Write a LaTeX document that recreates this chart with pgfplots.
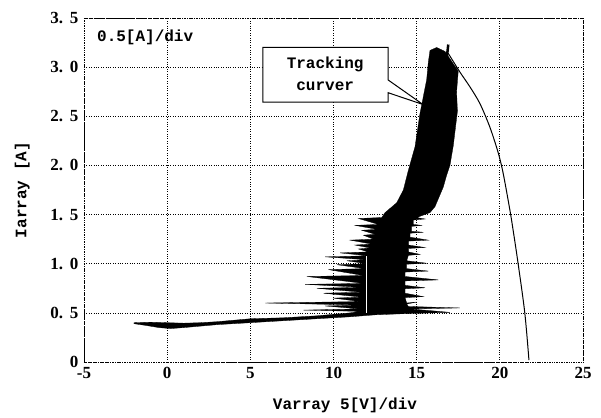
\documentclass[border=0pt]{standalone}
\usepackage{fontspec}
\setmainfont{Liberation Serif}
\setmonofont{Liberation Mono}
\usepackage{pgfplots}
\pgfplotsset{compat=1.18}
\newcommand\yl[2]{#1.\hspace{0.4em}#2}
\begin{document}
\begin{tikzpicture}
\path[use as bounding box] (-84pt,-55pt) rectangle (517pt,362pt);
\begin{axis}[
  scale only axis, width=499pt, height=344pt,
  xmin=-5, xmax=25, ymin=0, ymax=3.5,
  xtick={-5,0,5,10,15,20,25},
  xticklabels={-5,0,5,10,15,20,25},
  ytick={0,0.5,1,1.5,2,2.5,3,3.5},
  yticklabels={0,\yl05,\yl10,\yl15,\yl20,\yl25,\yl30,\yl35},
  tick style={draw=none},
  ticklabel style={font=\fontsize{17}{17}\selectfont\bfseries},
  yticklabel style={xshift=-2pt},
  xticklabel style={yshift=-2pt},
  grid=major,
  grid style={black, dotted, line width=0.7pt},
  axis line style={black, densely dotted, line width=0.7pt},
  xlabel={Varray 5[V]/div},
  ylabel={Iarray [A]},
  label style={font=\fontsize{16}{16}\selectfont\ttfamily\bfseries},
  xlabel style={at={(axis description cs:0.523,-0.125)}, anchor=center},
  ylabel style={at={(axis description cs:-0.124,0.5)}, anchor=center},
  clip=false,
]
% tracking trajectory (filled black band with spikes and low trail)
\addplot[fill=black, draw=black, line width=0.3pt] coordinates {
  (15.8,3.17) (16.2,3.20) (16.7,3.16) (17.1,3.06) (17.5,2.96) (17.4,2.75)
  (17.45,2.55) (17.2,2.2) (17.0,2.0) (16.8,1.9) (16.6,1.78) (16.3,1.66)
  (16.1,1.58) (15.8,1.52)
  (15.0,1.47) (15.5,1.455) (14.8,1.445)
  (14.8,1.40) (15.3,1.39) (14.7,1.38)
  (14.7,1.33) (15.4,1.32) (14.6,1.31)
  (14.6,1.27) (15.7,1.24) (14.5,1.23)
  (14.5,1.19) (15.5,1.165) (14.5,1.155)
  (14.5,1.12) (15.2,1.095) (14.5,1.085)
  (14.4,1.03) (15.6,1.005) (14.4,0.995)
  (14.4,0.95) (15.7,0.925) (14.3,0.915)
  (14.3,0.87) (16.3,0.835) (14.3,0.825)
  (14.3,0.78) (15.5,0.755) (14.3,0.745)
  (14.3,0.70) (15.4,0.665) (14.3,0.655)
  (14.4,0.60) (15.0,0.61) (14.4,0.59)
  (14.5,0.565) (17.6,0.55) (14.6,0.54)
  (16.0,0.52) (17.0,0.505) (14.0,0.49)
  (12.5,0.48) (11,0.46) (9,0.44) (7,0.42) (5,0.40) (3,0.38) (1,0.35)
  (0.2,0.34) (-0.5,0.35) (-1.2,0.37) (-2.0,0.39) (-2.0,0.40)
  (-1,0.405) (0,0.40) (1,0.395) (2,0.40) (3,0.41) (5,0.44) (7,0.45)
  (9,0.47) (11,0.50) (11.6,0.515)
  (8.2,0.528) (11.6,0.54) (9.5,0.57) (11.6,0.58) (5.9,0.60) (11.6,0.615)
  (10.0,0.65) (11.7,0.66) (9.4,0.70) (11.7,0.71)
  (9.0,0.75) (11.7,0.76) (8.3,0.79) (11.8,0.80) (8.4,0.87) (11.8,0.88)
  (9.7,0.94) (11.9,0.95) (10.2,0.99) (12.0,1.00) (10.8,1.03) (12.0,1.04)
  (9.5,1.07) (12.1,1.08) (10.4,1.11) (12.1,1.12) (11.5,1.15) (12.2,1.16)
  (11.3,1.19) (12.3,1.20) (11.0,1.24) (12.4,1.25) (11.8,1.29) (12.5,1.30)
  (11.7,1.34) (12.6,1.35) (11.3,1.39) (12.7,1.40) (11.5,1.46) (12.9,1.47)
  (13.1,1.52) (13.8,1.62) (14.2,1.75) (14.5,1.95) (14.9,2.19) (15.2,2.53)
  (15.6,2.87) (15.7,3.05)
} --cycle;
% gap in the band
\addplot[white, line width=1.2pt] coordinates {(12.0,0.50) (12.0,1.08)};
% stick at the top of the band
\addplot[black, line width=2.5pt] coordinates {(16.75,3.0) (16.9,3.23)};
% I-V curve
\addplot[black, line width=1pt, smooth] coordinates {
  (16.9,3.14) (17.6,2.95) (18.2,2.80) (18.8,2.63) (19.4,2.39) (19.9,2.13)
  (20.2,1.92) (20.6,1.55) (20.8,1.34) (21.1,1.0) (21.5,0.5) (21.75,0.02)
};
% callout
\draw[fill=white, line width=1pt] (axis cs:5.76,3.20) -- (axis cs:13.28,3.20)
  -- (axis cs:13.28,2.87) -- (axis cs:15.38,2.62) -- (axis cs:13.28,2.74)
  -- (axis cs:13.28,2.645) -- (axis cs:5.76,2.645) -- cycle;
\node[font=\fontsize{16}{22}\selectfont\ttfamily\bfseries, align=center]
  at (axis cs:9.5,2.93) {Tracking\\curver};
\node[font=\fontsize{16}{16}\selectfont\ttfamily\bfseries, anchor=west, inner sep=0pt]
  at (axis cs:-4.22,3.30) {0.5[A]/div};
\end{axis}
\end{tikzpicture}
\end{document}
